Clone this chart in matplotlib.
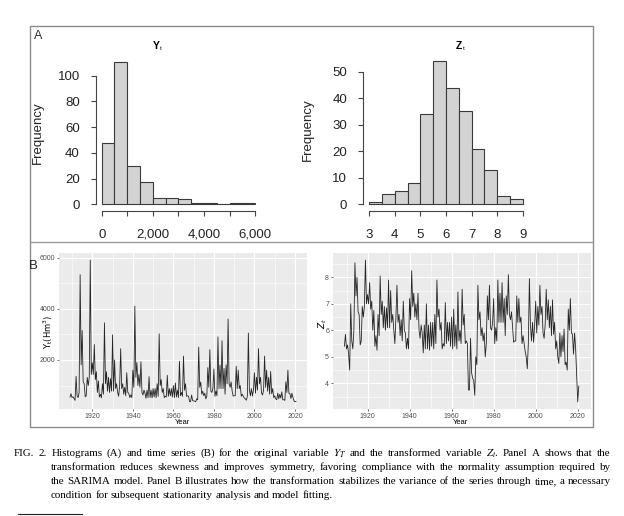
import matplotlib
matplotlib.use("Agg")
import matplotlib.pyplot as plt
import numpy as np
from matplotlib.patches import Rectangle
from matplotlib.lines import Line2D

plt.rcParams['font.family'] = ['Liberation Sans', 'DejaVu Sans']

# histogram of the original variable Y_t (bin width 500)
y_bin_edges = [0, 500, 1000, 1500, 2000, 2500, 3000, 3500, 4000, 4500, 5000, 5500, 6000]
y_counts = [48, 111, 30, 17, 5, 5, 4, 1, 1, 0, 1, 1]

# histogram of the transformed variable Z_t (bin width 0.5)
z_bin_edges = [3, 3.5, 4, 4.5, 5, 5.5, 6, 6.5, 7, 7.5, 8, 8.5, 9]
z_counts = [1, 4, 5, 8, 34, 54, 44, 35, 21, 13, 3, 2]

# semiannual series, 1909 - 2020 (two values per year)
start_year = 1909
y_series = [
    550, 680, 530, 560, 490, 420, 1360, 600, 530, 730, 5330, 1810, 3150, 1140, 1070, 560, 600, 1320, 1000, 1320,
    5900, 1430, 1890, 1430, 2600, 1230, 1540, 730, 1180, 550, 660, 520, 1070, 660, 3450, 1070, 1540, 780, 1320, 730,
    1270, 780, 2980, 780, 2000, 880, 1070, 730, 580, 1000, 2440, 880, 1070, 660, 930, 600, 1500, 730, 700, 530,
    630, 530, 1600, 930, 4100, 1320, 1900, 1000, 1430, 930, 1930, 730, 630, 820, 700, 500, 820, 530, 1350, 530,
    820, 520, 880, 550, 880, 530, 1070, 580, 3020, 1000, 1230, 730, 880, 530, 580, 550, 1400, 580, 880, 600,
    880, 550, 1000, 530, 1100, 550, 820, 530, 1950, 600, 730, 580, 2150, 820, 1070, 580, 600, 580, 370, 370,
    630, 410, 400, 390, 365, 480, 440, 2500, 930, 1140, 660, 780, 600, 700, 480, 580, 1700, 930, 2400, 780,
    730, 880, 1650, 580, 780, 600, 2900, 880, 1800, 880, 2750, 880, 1670, 660, 1810, 1070, 3600, 1070, 930, 1140,
    780, 590, 600, 600, 1750, 880, 1600, 880, 1000, 580, 660, 580, 510, 480, 425, 580, 3050, 820, 600, 880,
    590, 820, 1500, 700, 1320, 820, 2440, 1070, 1320, 700, 630, 820, 2150, 930, 1600, 780, 1320, 660, 1550, 680,
    880, 530, 600, 480, 445, 700, 480, 660, 510, 750, 440, 450, 420, 1150, 730, 1600, 700, 680, 490, 700,
    530, 400, 360, 380,
]
z_series = [
    5.4, 5.85, 5.3, 5.45, 5.1, 4.5, 7.0, 5.6, 5.3, 6.0, 8.55, 7.3, 8.0, 6.7, 6.6, 5.45, 5.6, 6.9, 6.5, 6.9,
    8.65, 7.0, 7.35, 7.0, 7.8, 6.8, 7.1, 6.0, 6.75, 5.4, 5.8, 5.25, 6.6, 5.8, 8.05, 6.6, 7.1, 6.1, 6.9, 6.0,
    6.85, 6.1, 7.9, 6.1, 7.5, 6.3, 6.6, 6.0, 5.5, 6.5, 7.7, 6.3, 6.6, 5.8, 6.4, 5.6, 7.1, 6.0, 5.9, 5.3,
    5.7, 5.3, 7.2, 6.4, 8.25, 6.9, 7.4, 6.5, 7.0, 6.4, 7.4, 6.0, 5.7, 6.2, 5.9, 5.15, 6.2, 5.3, 7.0, 5.3,
    6.2, 5.25, 6.3, 5.4, 6.3, 5.3, 6.6, 5.5, 7.9, 6.5, 6.8, 6.0, 6.3, 5.3, 5.5, 5.4, 7.05, 5.5, 6.3, 5.6,
    6.3, 5.4, 6.5, 5.3, 6.8, 5.4, 6.2, 5.3, 7.45, 5.6, 6.0, 5.5, 7.55, 6.2, 6.6, 5.5, 5.6, 5.5, 3.75, 3.75,
    5.7, 4.4, 4.2, 4.1, 3.55, 5.0, 4.7, 7.7, 6.4, 6.7, 5.8, 6.1, 5.6, 5.9, 5.0, 5.5, 7.3, 6.4, 7.7, 6.1,
    6.0, 6.3, 7.2, 5.5, 6.1, 5.6, 7.9, 6.3, 7.4, 6.3, 7.8, 6.3, 7.2, 5.8, 7.3, 6.6, 8.1, 6.6, 6.4, 6.7,
    6.1, 5.55, 5.6, 5.6, 7.3, 6.3, 7.2, 6.3, 6.5, 5.5, 5.8, 5.5, 5.2, 5.0, 4.55, 5.5, 7.95, 6.2, 5.6, 6.3,
    5.55, 6.2, 7.1, 5.9, 6.9, 6.2, 7.7, 6.6, 6.9, 5.9, 5.7, 6.2, 7.55, 6.4, 7.15, 6.1, 6.9, 5.8, 7.15, 5.85,
    6.3, 5.3, 5.6, 5.0, 4.75, 5.9, 5.0, 5.8, 5.2, 6.05, 4.7, 4.8, 4.5, 6.8, 6.0, 7.2, 5.9, 5.85, 5.1, 5.9,
    5.3, 4.3, 3.3, 3.9,
]
years = start_year + 0.5 * np.arange(len(z_series))

caption_lines = [
    "FIG. 2. Histograms (A) and time series (B) for the original variable $Y_T$ and the transformed variable $Z_t$. Panel A shows that the",
    "transformation reduces skewness and improves symmetry, favoring compliance with the normality assumption required by",
    "the SARIMA model. Panel B illustrates how the transformation stabilizes the variance of the series through time, a necessary",
    "condition for subsequent stationarity analysis and model fitting.",
]

W, H = 624, 516
fig = plt.figure(figsize=(W / 100, H / 100), dpi=100)


def px_axes(l, t, r, b):
    return fig.add_axes([l / W, 1 - b / H, (r - l) / W, (b - t) / H])


def ftext(x, y, s, **kw):
    return fig.text(x / W, 1 - y / H, s, **kw)


# ---- panel A : base-R style histograms ----
def r_hist(ax, edges, counts, xlim, ylim, yaxis_x, xaxis_y, yticks, xticks, xlabels, title, tx):
    left = np.array(edges[:-1])
    widths = np.diff(edges)
    ax.bar(left, counts, width=widths, align='edge', color='#D3D3D3',
           edgecolor='#3a3a3a', linewidth=0.8)
    ax.set_xlim(*xlim)
    ax.set_ylim(*ylim)
    ax.patch.set_visible(False)
    for s in ['top', 'right']:
        ax.spines[s].set_visible(False)
    ax.spines['left'].set_position(('data', yaxis_x))
    ax.spines['left'].set_bounds(yticks[0], yticks[-1])
    ax.spines['bottom'].set_position(('data', xaxis_y))
    ax.spines['bottom'].set_bounds(xticks[0], xticks[-1])
    for s in ['left', 'bottom']:
        ax.spines[s].set_color('#444444')
        ax.spines[s].set_linewidth(0.8)
    ax.set_yticks(yticks)
    ax.set_xticks(xticks)
    ax.set_xticklabels(xlabels)
    ax.tick_params(axis='both', direction='out', length=3.6, width=0.8, color='#444444',
                   labelsize=9.5, labelcolor='#222222')
    ax.tick_params(axis='y', pad=8)
    ax.tick_params(axis='x', pad=9.5)
    ftext(tx, 46, title[0], fontsize=7.5, fontweight='bold', ha='center', va='center')
    ftext(tx + 4.5, 49, title[1], fontsize=4.5, ha='center', va='center')


ax1 = px_axes(76, 56, 268, 220)
r_hist(ax1, y_bin_edges, y_counts, (-1005, 6506), (-12.2, 115.3), -223, -5,
       [0, 20, 40, 60, 80, 100], [0, 1000, 2000, 3000, 4000, 5000, 6000],
       ['0', '', '2,000', '', '4,000', '', '6,000'], ('Y', 't'), 156)
ftext(38, 133, 'Frequency', fontsize=9.5, rotation=90, ha='center', va='center', color='#222222')

ax2 = px_axes(340, 56, 540, 220)
r_hist(ax2, z_bin_edges, z_counts, (1.854, 9.678), (-5.92, 55.9), 2.765, -2.41,
       [0, 10, 20, 30, 40, 50], [3, 4, 5, 6, 7, 8, 9],
       ['3', '4', '5', '6', '7', '8', '9'], ('Z', 't'), 459)
ftext(308, 130, 'Frequency', fontsize=9.5, rotation=90, ha='center', va='center', color='#222222')


# ---- panel B : ggplot style time series ----
def gg_line(ax, x, y, yticks, yminor):
    ax.set_facecolor('#EBEBEB')
    ax.plot(x, y, color='#262626', linewidth=0.6)
    xr = x.max() - x.min()
    ax.set_xlim(x.min() - 0.05 * xr, x.max() + 0.05 * xr)
    yr = max(y) - min(y)
    ax.set_ylim(min(y) - 0.05 * yr, max(y) + 0.05 * yr)
    for s in ax.spines.values():
        s.set_visible(False)
    ax.set_xticks([1920, 1940, 1960, 1980, 2000, 2020])
    ax.set_xticks([1910, 1930, 1950, 1970, 1990, 2010], minor=True)
    ax.set_yticks(yticks)
    ax.set_yticks(yminor, minor=True)
    ax.set_axisbelow(True)
    ax.grid(which='major', color='white', linewidth=0.8)
    ax.grid(which='minor', color='white', linewidth=0.4)
    ax.tick_params(which='major', length=1.6, width=0.5, color='#333333',
                   labelsize=5, labelcolor='#4D4D4D', pad=1)
    ax.tick_params(which='minor', length=0)


ax3 = px_axes(58.7, 253, 307.3, 409)
gg_line(ax3, years, y_series, [2000, 4000, 6000], [1000, 3000, 5000])
ftext(183, 422, 'Year', fontsize=5.5, ha='center', va='center')
ftext(48, 332, r'$\mathrm{Y_t(Hm^3)}$', fontsize=6, rotation=90, ha='center', va='center')

ax4 = px_axes(332.7, 253, 590.5, 409)
gg_line(ax4, years, z_series, [4, 5, 6, 7, 8], [3.5, 4.5, 5.5, 6.5, 7.5, 8.5])
ftext(461, 422, 'Year', fontsize=5.5, ha='center', va='center')
ftext(323, 323, r'$Z_t$', fontsize=6.5, rotation=90, ha='center', va='center')

# panel letters and frames
ftext(38, 36, 'A', fontsize=9, ha='center', va='center', color='#333333')
ftext(33, 266, 'B', fontsize=9.5, ha='center', va='center', color='#222222')
fig.patches.append(Rectangle((30 / W, 1 - 427 / H), 563 / W, 401 / H, fill=False,
                             edgecolor='#8a8a8a', linewidth=1, transform=fig.transFigure))
fig.lines.append(Line2D([30 / W, 593 / W], [1 - 242 / H, 1 - 242 / H], color='#9a9a9a',
                        linewidth=1, transform=fig.transFigure))
fig.lines.append(Line2D([18 / W, 82 / W], [1 - 514 / H, 1 - 514 / H], color='#222222',
                        linewidth=0.8, transform=fig.transFigure))

# caption, justified word by word
renderer = fig.canvas.get_renderer()
cap_kw = dict(family='Liberation Serif', fontsize=7.9, va='baseline', math_fontfamily='stix')
baselines = [456, 470, 484, 498]
for i, line in enumerate(caption_lines):
    x0 = 14 if i == 0 else 51
    x1 = 611
    words = line.split(' ')
    items = [ftext(x0, baselines[i], w, **cap_kw) for w in words]
    widths = [t.get_window_extent(renderer).width for t in items]
    if i < len(caption_lines) - 1:
        gap = (x1 - x0 - sum(widths)) / (len(words) - 1)
    else:
        gap = 2.7
    x = x0
    for t, w in zip(items, widths):
        t.set_x(x / W)
        x += w + gap

fig.savefig('out.png', dpi=100)
